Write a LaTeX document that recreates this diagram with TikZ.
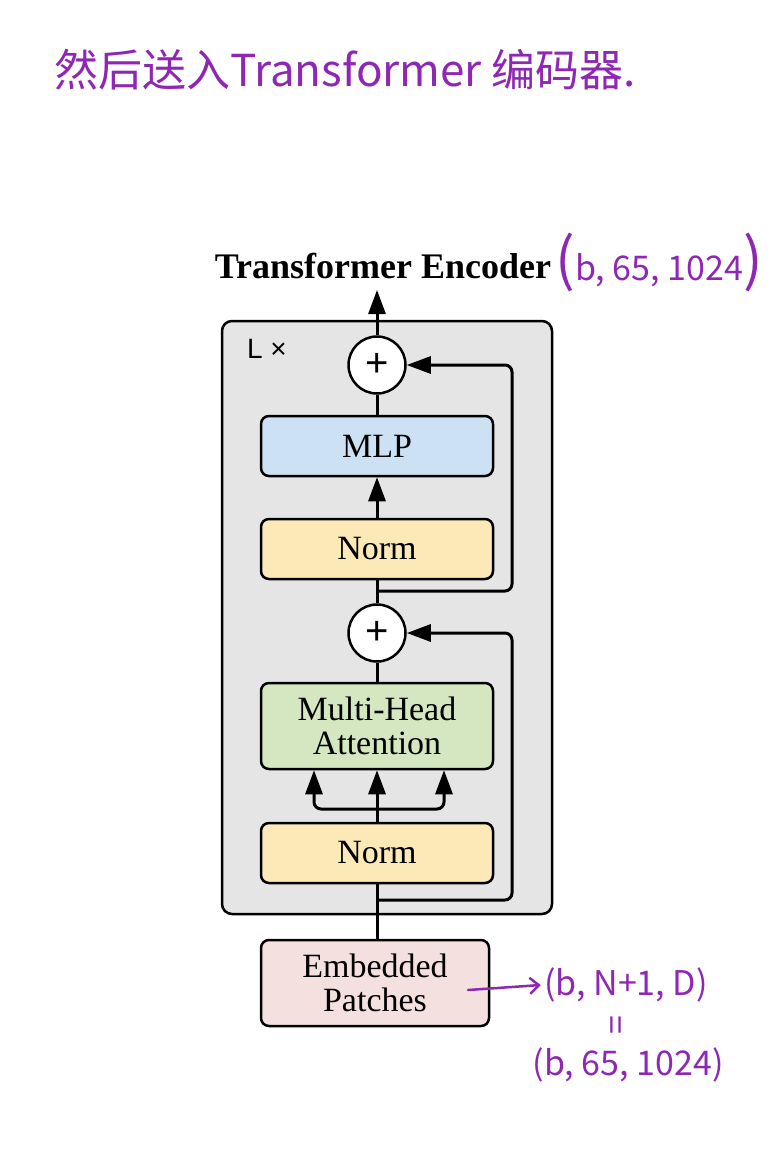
\documentclass[tikz,border=0pt]{standalone}
\usepackage{fontspec}
\setmainfont{Liberation Serif}
\newfontfamily\cjk{Noto Sans CJK SC}
\newfontfamily\helv{Liberation Sans}
\usetikzlibrary{positioning,arrows.meta}
\definecolor{encgray}{RGB}{229,229,229}
\definecolor{mlpblue}{RGB}{204,225,243}
\definecolor{normyellow}{RGB}{251,234,184}
\definecolor{attgreen}{RGB}{213,231,192}
\definecolor{embpink}{RGB}{245,224,224}
\definecolor{handpurple}{RGB}{142,40,180}

\begin{document}
\begin{tikzpicture}[x=1pt,y=-1pt,on grid,
  font=\fontsize{34}{34}\selectfont,
  block/.style={draw,line width=2.5pt,rounded corners=8pt,minimum width=232pt,minimum height=60pt,align=center},
  addnode/.style={draw,circle,fill=white,line width=2.5pt,minimum size=57pt,inner sep=0pt,font=\helv\fontsize{40}{40}\selectfont},
  conn/.style={line width=3pt,rounded corners=7pt},
  arrow/.style={conn,-{Triangle[length=24pt,width=17pt]}},
  hand/.style={text=handpurple,font=\cjk\fontsize{34}{34}\selectfont}]
   \useasboundingbox[fill=white] (0,0) rectangle (779,1157);

   % encoder block
   \node[draw,fill=encgray,line width=2.5pt,rounded corners=10pt,minimum width=330pt,minimum height=593pt] (encoder) at (387,617.5) {};
   \node[font=\helv\fontsize{28}{28}\selectfont] (lx) at (267,349) {L ×};
   \node[font=\fontsize{36}{36}\selectfont\bfseries] (title) at (383,266) {Transformer Encoder};

   \node[addnode] (add1) at (377,365) {+};
   \node[block,fill=mlpblue] (mlp) [below=81pt of add1] {MLP};
   \node[block,fill=normyellow] (norm1) [below=103pt of mlp] {Norm};
   \node[addnode] (add2) [below=84pt of norm1] {+};
   \node[block,fill=attgreen,minimum height=86pt] (mha) [below=93pt of add2] {Multi-Head\\Attention};
   \node[block,fill=normyellow] (norm2) [below=127pt of mha] {Norm};
   \node[block,fill=embpink,minimum width=228pt,minimum height=86pt] (emb) [below=130pt of norm2,xshift=-2pt] {Embedded\\Patches};

   \coordinate (out) at (377,290);
   \coordinate (split1) at (377,900);
   \coordinate (turn1) at (512,900);
   \coordinate (split2) at (377,591);
   \coordinate (turn2) at (512,591);
   \coordinate (fan) at (377,809);
   \coordinate (fanL) at (314,809);
   \coordinate (fanR) at (444,809);

   % main path
   \draw[conn] (emb.north -| split1) -- (norm2.south);
   \draw[arrow] (norm2.north) -- (mha.south);
   \draw[arrow] (fan) -- (fanL) -- (fanL |- mha.south);
   \draw[arrow] (fan) -- (fanR) -- (fanR |- mha.south);
   \draw[conn] (mha.north) -- (add2.south);
   \draw[conn] (add2.north) -- (norm1.south);
   \draw[arrow] (norm1.north) -- (mlp.south);
   \draw[conn] (mlp.north) -- (add1.south);
   \draw[arrow] (add1.north) -- (out);

   % residual connections
   \draw[arrow] (split1) -- (turn1) |- (add2.east);
   \draw[arrow] (split2) -- (turn2) |- (add1.east);

   % handwritten notes
   \node[hand,font=\cjk\fontsize{44}{44}\selectfont] (note) at (345,70) {然后送入Transformer 编码器.};
   \node[hand] (shapeout) at (659,262) {{\fontsize{58}{58}\selectfont(}b, 65, 1024{\fontsize{58}{58}\selectfont)}};
   \node[hand] (shapein) at (626,985) {(b, N+1, D)};
   \node[hand,rotate=90] (eq) at (620,1025) {=};
   \node[hand] (shapeval) at (628,1065) {(b, 65, 1024)};
   \coordinate (handstart) at (468,990);
   \draw[handpurple,line width=2.5pt,line cap=round,-{Straight Barb[length=9pt,width=16pt]}] (handstart) -- (shapein.west);
\end{tikzpicture}
\end{document}
